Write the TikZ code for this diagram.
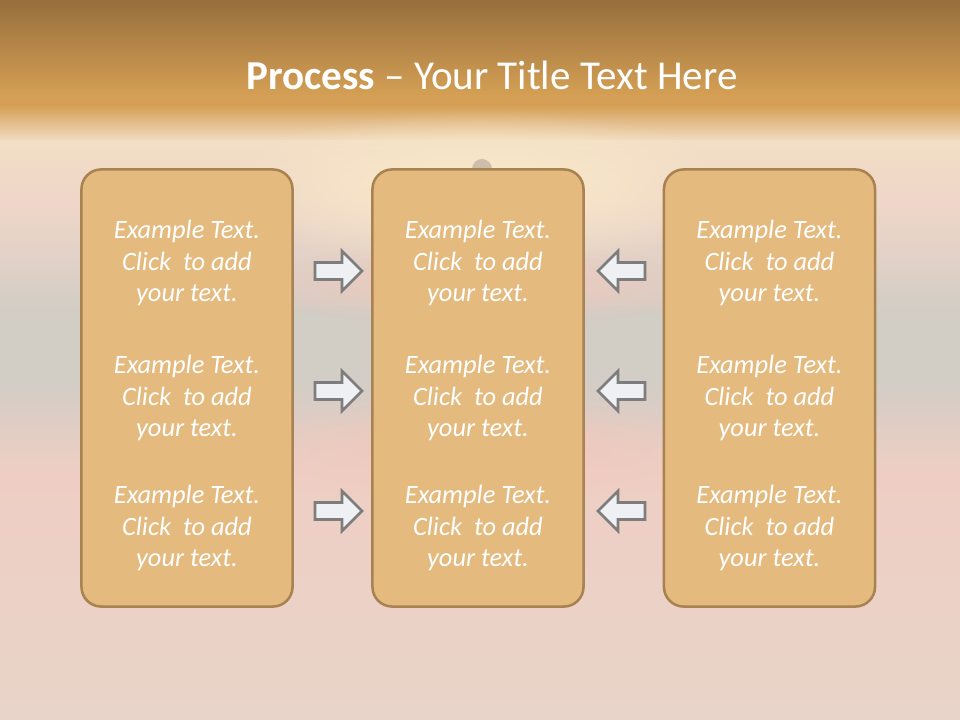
\documentclass[tikz,border=0pt]{standalone}
\usepackage{fontspec}
\setmainfont{Carlito}
\usetikzlibrary{positioning,fadings}
\definecolor{duskbrown}{RGB}{150,110,60}
\definecolor{duskorange}{RGB}{213,160,85}
\definecolor{duskcream}{RGB}{242,222,198}
\definecolor{duskpink}{RGB}{238,213,200}
\definecolor{duskgray}{RGB}{210,205,197}
\definecolor{duskrose}{RGB}{238,206,196}
\definecolor{dusklow}{RGB}{232,212,200}
\definecolor{glowcream}{RGB}{251,236,202}
\definecolor{glowrose}{RGB}{242,200,188}
\definecolor{sungray}{RGB}{205,190,172}
\definecolor{panelfill}{RGB}{228,186,126}
\definecolor{panelrim}{RGB}{168,130,80}
\definecolor{arrowfill}{RGB}{238,240,243}
\definecolor{arrowrim}{RGB}{125,125,125}
\tikzfading[name=softglow,inner color=transparent!0,outer color=transparent!100]

\begin{document}
\begin{tikzpicture}[
  x=0.025cm,y=-0.025cm,
  panel/.style={rectangle,rounded corners=14pt,draw=panelrim,line width=1.8pt,
    fill=panelfill,minimum width=5.275cm,minimum height=10.925cm},
  blurb/.style={align=center,text=white,font=\fontsize{18.8}{22.5}\selectfont\itshape},
  headline/.style={text=white,font=\fontsize{29.2}{35}\selectfont},
  blockarr/.style={draw=arrowrim,fill=arrowfill,line width=1.8pt,line join=miter}
]
% backdrop
\shade[top color=duskbrown,bottom color=duskorange] (0,0) rectangle (960,96);
\fill[duskorange] (0,95) rectangle (960,106);
\shade[top color=duskorange,bottom color=duskcream] (0,105) rectangle (960,142);
\shade[top color=duskcream,bottom color=duskpink] (0,141) rectangle (960,212);
\shade[top color=duskpink,bottom color=duskgray] (0,211) rectangle (960,312);
\fill[duskgray] (0,311) rectangle (960,381);
\shade[top color=duskgray,bottom color=duskrose] (0,380) rectangle (960,472);
\shade[top color=duskrose,bottom color=dusklow] (0,471) rectangle (960,720);
\fill[glowcream,path fading=softglow] (480,190) ellipse (270 and 80);
\fill[glowrose,path fading=softglow] (480,285) ellipse (250 and 40);
\fill[glowrose,path fading=softglow] (480,450) ellipse (260 and 50);
\fill[sungray] (482,169) circle (10);
\useasboundingbox (0,0) rectangle (960,720);

% title
\node[headline] (title) at (492,75) {\textbf{Process} – Your Title Text Here};

% panels
\node[panel] (leftcol) at (187,388) {};
\node[panel] (midcol) at (478,388) {};
\node[panel] (rightcol) at (769.5,388) {};

% panel texts
\foreach \col/\cx in {leftcol/187,midcol/478,rightcol/769.5}
  \foreach \row/\cy in {a/263,b/398,c/528}
    \node[blurb] (\col-\row) at (\cx,\cy) {Example Text.\\Click~ to add\\your text.};

% arrows into the middle panel
\foreach \cy in {271,391,511} {
  \draw[blockarr] (315,\cy-8.5) -- ++(27,0) -- ++(0,-11.5) -- ++(20,20)
    -- ++(-20,20) -- ++(0,-11.5) -- ++(-27,0) -- cycle;
  \draw[blockarr] (645,\cy-8.5) -- ++(-27,0) -- ++(0,-11.5) -- ++(-20,20)
    -- ++(20,20) -- ++(0,-11.5) -- ++(27,0) -- cycle;
}
\end{tikzpicture}
\end{document}
